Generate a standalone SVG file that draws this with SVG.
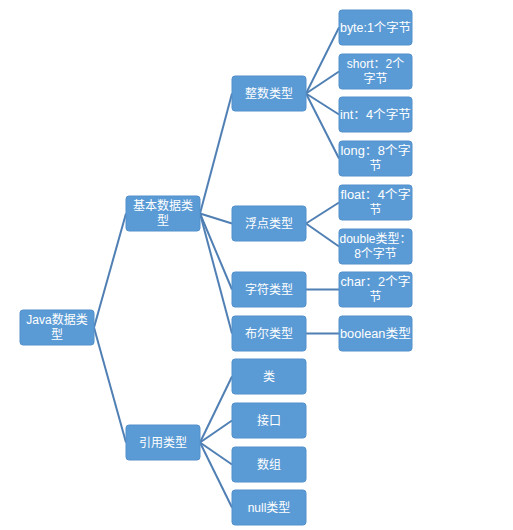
<svg xmlns="http://www.w3.org/2000/svg" width="513" height="530" viewBox="0 0 513 530">
<style>
.n rect{fill:#5b9bd5;stroke:#5390cc;stroke-width:1}
.n text{fill:#ffffff;font-family:"Liberation Sans","Noto Sans CJK SC",sans-serif;font-size:12px;text-anchor:middle}
.c line{stroke:#4f7fb3;stroke-width:2}
</style>
<rect width="513" height="530" fill="#ffffff"/>
<g id="connectors" class="c">
<line x1="94" y1="327.5" x2="126" y2="213.5"/>
<line x1="94" y1="327.5" x2="126" y2="442.5"/>
<line x1="200" y1="213.5" x2="232" y2="93.5"/>
<line x1="200" y1="213.5" x2="232" y2="223.5"/>
<line x1="200" y1="213.5" x2="232" y2="289.5"/>
<line x1="200" y1="213.5" x2="232" y2="333.5"/>
<line x1="306" y1="93.5" x2="339" y2="27.5"/>
<line x1="306" y1="93.5" x2="339" y2="71.5"/>
<line x1="306" y1="93.5" x2="339" y2="114.5"/>
<line x1="306" y1="93.5" x2="339" y2="158.5"/>
<line x1="306" y1="223.5" x2="339" y2="202.5"/>
<line x1="306" y1="223.5" x2="339" y2="246.5"/>
<line x1="306" y1="289.5" x2="339" y2="289.5"/>
<line x1="306" y1="333.5" x2="339" y2="333.5"/>
<line x1="200" y1="442.5" x2="232" y2="376.5"/>
<line x1="200" y1="442.5" x2="232" y2="420.5"/>
<line x1="200" y1="442.5" x2="232" y2="464.5"/>
<line x1="200" y1="442.5" x2="232" y2="507.5"/>
</g>
<g id="java" class="n"><rect x="20" y="310" width="74" height="35" rx="3"/><text x="57" y="324">Java数据类</text><text x="57" y="339">型</text></g>
<g id="basic" class="n"><rect x="126" y="196" width="74" height="35" rx="3"/><text x="163" y="210">基本数据类</text><text x="163" y="225">型</text></g>
<g id="ref" class="n"><rect x="126" y="425" width="74" height="35" rx="3"/><text x="163" y="447">引用类型</text></g>
<g id="int-type" class="n"><rect x="232" y="76" width="74" height="35" rx="3"/><text x="269" y="98">整数类型</text></g>
<g id="float-type" class="n"><rect x="232" y="206" width="74" height="35" rx="3"/><text x="269" y="228">浮点类型</text></g>
<g id="char-type" class="n"><rect x="232" y="272" width="74" height="35" rx="3"/><text x="269" y="294">字符类型</text></g>
<g id="bool-type" class="n"><rect x="232" y="316" width="74" height="35" rx="3"/><text x="269" y="338">布尔类型</text></g>
<g id="class" class="n"><rect x="232" y="359" width="74" height="35" rx="3"/><text x="269" y="381">类</text></g>
<g id="interface" class="n"><rect x="232" y="403" width="74" height="35" rx="3"/><text x="269" y="425">接口</text></g>
<g id="array" class="n"><rect x="232" y="447" width="74" height="35" rx="3"/><text x="269" y="469">数组</text></g>
<g id="null" class="n"><rect x="232" y="490" width="74" height="35" rx="3"/><text x="269" y="512">null类型</text></g>
<g id="byte" class="n"><rect x="339" y="10" width="73" height="35" rx="3"/><text x="375.5" y="32" textLength="71" lengthAdjust="spacingAndGlyphs">byte:1个字节</text></g>
<g id="short" class="n"><rect x="339" y="54" width="73" height="35" rx="3"/><text x="375.5" y="68">short：2个</text><text x="375.5" y="83">字节</text></g>
<g id="int" class="n"><rect x="339" y="97" width="73" height="35" rx="3"/><text x="375.5" y="119" textLength="71" lengthAdjust="spacingAndGlyphs">int：4个字节</text></g>
<g id="long" class="n"><rect x="339" y="141" width="73" height="35" rx="3"/><text x="375.5" y="155" textLength="70" lengthAdjust="spacingAndGlyphs">long：8个字</text><text x="375.5" y="170">节</text></g>
<g id="float" class="n"><rect x="339" y="185" width="73" height="35" rx="3"/><text x="375.5" y="199" textLength="70" lengthAdjust="spacingAndGlyphs">float：4个字</text><text x="375.5" y="214">节</text></g>
<g id="double" class="n"><rect x="339" y="229" width="73" height="35" rx="3"/><text x="375.5" y="243" textLength="72" lengthAdjust="spacingAndGlyphs">double类型：</text><text x="375.5" y="258">8个字节</text></g>
<g id="char" class="n"><rect x="339" y="272" width="73" height="35" rx="3"/><text x="375.5" y="286" textLength="70" lengthAdjust="spacingAndGlyphs">char：2个字</text><text x="375.5" y="301">节</text></g>
<g id="boolean" class="n"><rect x="339" y="316" width="73" height="35" rx="3"/><text x="375.5" y="338" textLength="71" lengthAdjust="spacingAndGlyphs">boolean类型</text></g>
</svg>
